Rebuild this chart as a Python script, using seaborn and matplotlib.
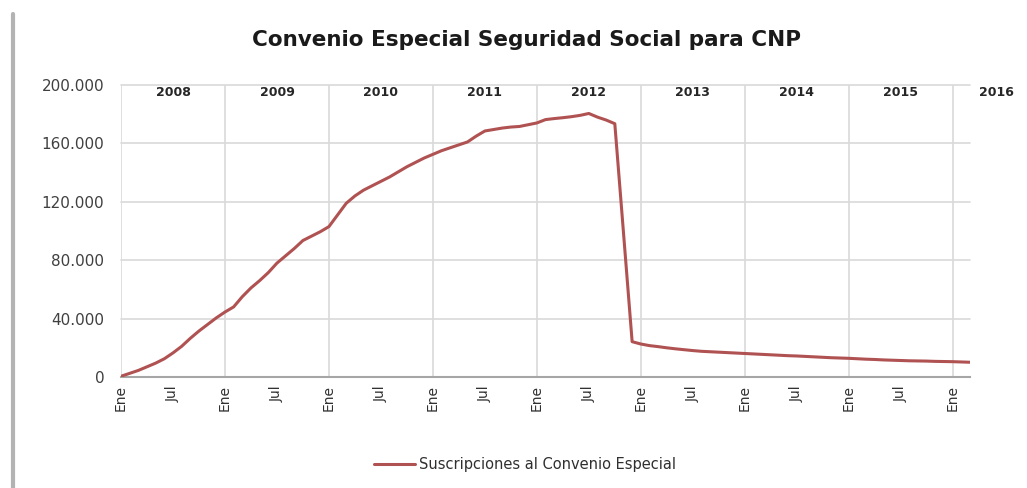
import numpy as np
import pandas as pd
import matplotlib
matplotlib.use("Agg")
import matplotlib.pyplot as plt
import seaborn as sns

# ---- data (thousands of subscriptions, monthly Jan 2008 .. Mar 2016) ----
years = ["2008", "2009", "2010", "2011", "2012", "2013", "2014", "2015", "2016"]
v2008 = [0.5, 2.5, 4.5, 7, 9.5, 12.5, 16.5, 21, 26.5, 31.5, 36, 40.5]
v2009 = [44.5, 48, 55, 61, 66, 71.5, 78, 83, 88, 93.5, 96.5, 99.5]
v2010 = [103, 111, 119, 124, 128, 131, 134, 137, 140.5, 144, 147, 150]
v2011 = [152.5, 155, 157, 159, 161, 165, 168.5, 169.5, 170.5, 171.2, 171.6, 172.8]
v2012 = [174, 176.3, 177, 177.6, 178.3, 179.2, 180.5, 178, 176, 173.5, 99, 24.2]
v2013 = [22.6, 21.5, 20.8, 20, 19.3, 18.7, 18.1, 17.6, 17.3, 17, 16.7, 16.4]
v2014 = [16.1, 15.8, 15.5, 15.2, 14.9, 14.6, 14.4, 14.1, 13.8, 13.5, 13.2, 13.0]
v2015 = [12.8, 12.5, 12.2, 12.0, 11.7, 11.5, 11.3, 11.1, 11.0, 10.9, 10.7, 10.6]
v2016 = [10.5, 10.3, 10.1]
month_labels = ["Ene", "Jul"]
yticks_vals = [0, 40000, 80000, 120000, 160000, 200000]
ytick_labels = ["0", "40.000", "80.000", "120.000", "160.000", "200.000"]
title = "Convenio Especial Seguridad Social para CNP"
series_name = "Suscripciones al Convenio Especial"

values = np.array(v2008 + v2009 + v2010 + v2011 + v2012 + v2013 + v2014 + v2015 + v2016) * 1000
df = pd.DataFrame({"mes": np.arange(len(values)), "suscripciones": values})

sns.set_style("white")
plt.rcParams["font.family"] = ["DejaVu Sans"]

fig = plt.figure(figsize=(10.27, 4.88), dpi=100)
ax = fig.add_axes([121 / 1027, 1 - 377 / 488, (970 - 121) / 1027, (377 - 85) / 488])

line_color = "#b05252"
sns.lineplot(data=df, x="mes", y="suscripciones", ax=ax, color=line_color,
             linewidth=2.2, label=series_name, zorder=3)

n = len(values)
ax.set_xlim(0, n - 1)
ax.set_ylim(0, 200000)

# grid
grid_c = "#d9d9d9"
for yv in yticks_vals[1:]:
    ax.axhline(yv, color=grid_c, lw=1.2, zorder=1, clip_on=False)
for i in range(len(years)):
    ax.axvline(i * 12, color=grid_c, lw=1.2, zorder=1)

for s in ["left", "right", "top"]:
    ax.spines[s].set_visible(False)
ax.spines["bottom"].set_color("#a6a6a6")
ax.spines["bottom"].set_linewidth(1.5)

ax.set_yticks(yticks_vals)
ax.set_yticklabels(ytick_labels, fontsize=11, color="#404040")
xt = np.arange(0, n, 6)
ax.set_xticks(xt)
ax.set_xticklabels([month_labels[k % 2] for k in range(len(xt))],
                   rotation=90, fontsize=10, color="#303030")
ax.tick_params(axis="both", length=0, pad=6)
ax.tick_params(axis="y", pad=12)
ax.set_xlabel("")
ax.set_ylabel("")

# year labels at top of plot
for i, yr in enumerate(years):
    xpos = i * 12 + 6 if i < len(years) - 1 else i * 12 + 5
    ax.text(xpos, 195000, yr, ha="center", va="center", fontsize=9,
            fontweight="bold", color="#262626", clip_on=False)

fig.text(527 / 1027, 1 - 40 / 488, title, ha="center", va="center",
         fontsize=15.5, fontweight="bold", color="#1a1a1a")

ax.legend(loc="center", bbox_to_anchor=(525 / 1027, 1 - 465 / 488),
          bbox_transform=fig.transFigure, frameon=False, fontsize=10.5,
          handlelength=2.8, handletextpad=0.3, labelcolor="#303030")

# left gray bar
fig.add_artist(plt.Line2D([13 / 1027, 13 / 1027], [0, 1 - 14 / 488],
                          transform=fig.transFigure, color="#b3b3b3", lw=3))

fig.savefig("out.png", dpi=100)
